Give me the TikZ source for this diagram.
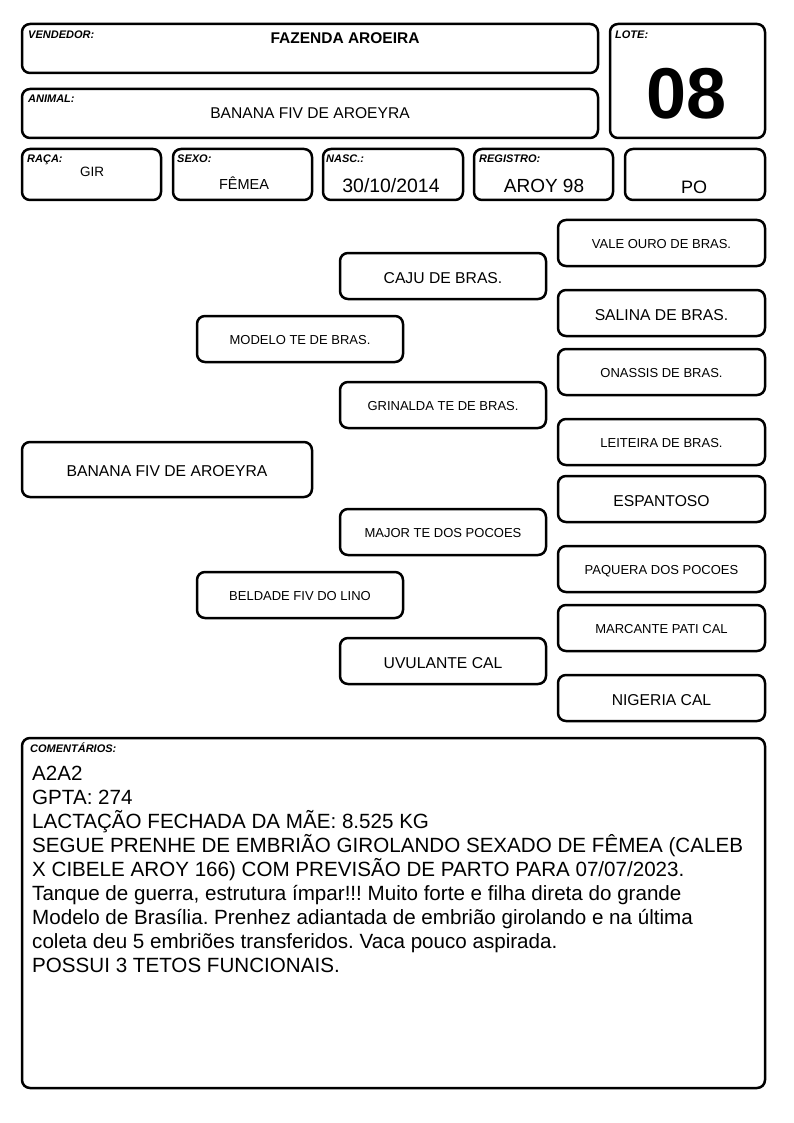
\documentclass[tikz,border=0pt]{standalone}
\usepackage{fontspec}
\setmainfont{Liberation Sans}
\frenchspacing
\begin{document}
\begin{tikzpicture}[x=1pt,y=-1pt,
  box/.style={draw=black, line width=2.5pt, rounded corners=8pt, inner sep=0pt, fill=white,
    text height=.72em, text depth=0pt, align=center},
  tag/.style={anchor=base west, inner sep=0pt, font=\bfseries\itshape\fontsize{11}{13}\selectfont},
  big/.style={font=\fontsize{15.7}{18}\selectfont, text height=14pt, text depth=0pt},
  small/.style={font=\fontsize{13}{15}\selectfont, text height=11.4pt, text depth=0pt},
  val/.style={anchor=base, inner sep=0pt},
  cline/.style={anchor=base west, inner sep=0pt, font=\fontsize{20.6}{24}\selectfont}
]
\fill[white] (0,0) rectangle (794,1123);
\useasboundingbox (0,0) rectangle (794,1123);

% header boxes
\node[box, minimum width=576pt, minimum height=49pt] (vend) at (310,48.5) {};
\node[box, minimum width=576pt, minimum height=49pt] (anim) at (310,113.5) {};
\node[box, minimum width=155pt, minimum height=114pt] (lote) at (687.5,81) {};
\node[box, minimum width=139pt, minimum height=51pt] (raca) at (91.5,174.5) {};
\node[box, minimum width=139pt, minimum height=51pt] (sexo) at (242.5,174.5) {};
\node[box, minimum width=140pt, minimum height=51pt] (nasc) at (393,174.5) {};
\node[box, minimum width=139pt, minimum height=51pt] (regi) at (543.5,174.5) {};
\node[box, minimum width=140pt, minimum height=51pt] (pobx) at (695,174.5) {};

\node[tag] (tvend) at (28,39) {VENDEDOR:};
\node[tag] (tanim) at (28,103) {ANIMAL:};
\node[tag] (tlote) at (615,39) {LOTE:};
\node[tag] (traca) at (27,163) {RAÇA:};
\node[tag] (tsexo) at (177,163) {SEXO:};
\node[tag] (tnasc) at (326,163) {NASC.:};
\node[tag] (tregi) at (479,163) {REGISTRO:};

\node[val, font=\bfseries\fontsize{15.5}{18}\selectfont] (vvend) at (345,43.5) {FAZENDA AROEIRA};
\node[val, font=\fontsize{15.6}{18}\selectfont] (vanim) at (310,118.5) {BANANA FIV DE AROEYRA};
\node[val, font=\bfseries\fontsize{72}{80}\selectfont] (vlote) at (687,119) {08};
\node[val, font=\fontsize{13.5}{16}\selectfont] (vraca) at (92,177) {GIR};
\node[val, font=\fontsize{14.5}{17}\selectfont] (vsexo) at (244,189.5) {FÊMEA};
\node[val, font=\fontsize{19.4}{22}\selectfont] (vnasc) at (391,193) {30/10/2014};
\node[val, font=\fontsize{19}{22}\selectfont] (vregi) at (544,193) {AROY 98};
\node[val, font=\fontsize{18}{21}\selectfont] (vpo) at (694,193.5) {PO};

% pedigree
\node[box, big, minimum width=290pt, minimum height=55pt] (main) at (167,469.5) {BANANA FIV DE AROEYRA};
\node[box, small, minimum width=206pt, minimum height=46pt] (pai) at (300,339) {MODELO TE DE BRAS.};
\node[box, small, minimum width=206pt, minimum height=46pt] (mae) at (300,595) {BELDADE FIV DO LINO};
\node[box, big, minimum width=206pt, minimum height=46pt] (avp) at (443,276) {CAJU DE BRAS.};
\node[box, small, minimum width=206pt, minimum height=46pt] (avpm) at (443,405) {GRINALDA TE DE BRAS.};
\node[box, small, minimum width=206pt, minimum height=46pt] (avm) at (443,532) {MAJOR TE DOS POCOES};
\node[box, big, minimum width=206pt, minimum height=46pt] (avmm) at (443,661) {UVULANTE CAL};
\node[box, small, minimum width=207pt, minimum height=46pt] (b1) at (661.5,243) {VALE OURO DE BRAS.};
\node[box, big, minimum width=207pt, minimum height=46pt] (b2) at (661.5,313) {SALINA DE BRAS.};
\node[box, small, minimum width=207pt, minimum height=46pt] (b3) at (661.5,372) {ONASSIS DE BRAS.};
\node[box, small, minimum width=207pt, minimum height=46pt] (b4) at (661.5,442) {LEITEIRA DE BRAS.};
\node[box, big, minimum width=207pt, minimum height=46pt] (b5) at (661.5,499) {ESPANTOSO};
\node[box, small, minimum width=207pt, minimum height=46pt] (b6) at (661.5,569) {PAQUERA DOS POCOES};
\node[box, small, minimum width=207pt, minimum height=46pt] (b7) at (661.5,628) {MARCANTE PATI CAL};
\node[box, big, minimum width=207pt, minimum height=46pt] (b8) at (661.5,698) {NIGERIA CAL};

% comments
\node[box, minimum width=743pt, minimum height=350pt] (coms) at (393.5,913) {};
\node[tag] (tcoms) at (30,752) {COMENTÁRIOS:};
\node[cline] (c1) at (32,780) {A2A2};
\node[cline] (c2) at (32,804) {GPTA: 274};
\node[cline] (c3) at (32,828) {LACTAÇÃO FECHADA DA MÃE: 8.525 KG};
\node[cline] (c4) at (32,852) {SEGUE PRENHE DE EMBRIÃO GIROLANDO SEXADO DE FÊMEA (CALEB};
\node[cline] (c5) at (32,876) {X CIBELE AROY 166) COM PREVISÃO DE PARTO PARA 07/07/2023.};
\node[cline] (c6) at (32,900) {Tanque de guerra, estrutura ímpar!!! Muito forte e filha direta do grande};
\node[cline] (c7) at (32,924) {Modelo de Brasília. Prenhez adiantada de embrião girolando e na última};
\node[cline] (c8) at (32,948) {coleta deu 5 embriões transferidos. Vaca pouco aspirada.};
\node[cline] (c9) at (32,972) {POSSUI 3 TETOS FUNCIONAIS.};
\end{tikzpicture}
\end{document}
